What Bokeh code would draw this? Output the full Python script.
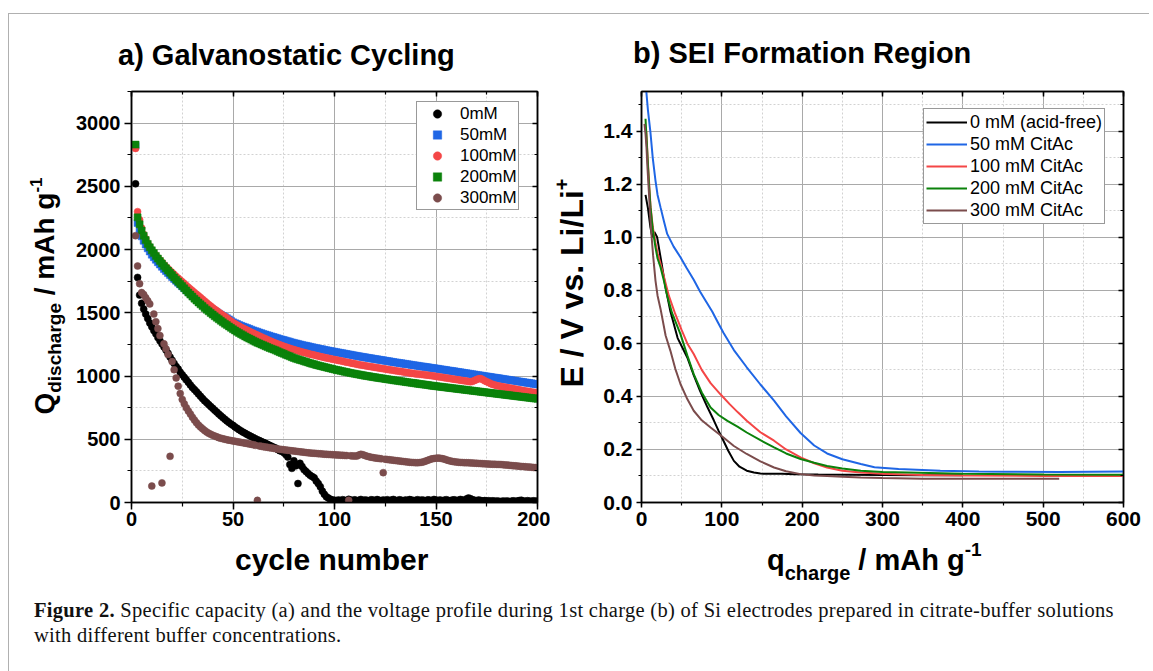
from bokeh.plotting import figure
from bokeh.models import (ColumnDataSource, LinearAxis, SingleIntervalTicker,
                          Legend, LegendItem, Div, Range1d, PrintfTickFormatter, Spacer)
from bokeh.layouts import row, column
from bokeh.embed import file_html
from bokeh.resources import INLINE

SANS = "Liberation Sans"

# ---------------- panel a: discharge capacity vs cycle ----------------
cycles = list(range(2, 201))
labels_a = ["0mM", "50mM", "100mM", "200mM", "300mM"]
Q_0mM = [2520, 1780, 1640, 1575, 1530, 1490, 1455, 1420, 1390, 1360,
         1335, 1305, 1280, 1255, 1230, 1205, 1180, 1150, 1125, 1100,
         1075, 1055, 1030, 1010, 990, 970, 950, 930, 910, 893,
         875, 858, 840, 822, 805, 790, 775, 760, 745, 730,
         715, 700, 686, 672, 658, 645, 633, 620, 610, 598,
         587, 576, 566, 556, 547, 538, 530, 521, 513, 505,
         497, 490, 482, 475, 468, 460, 452, 445, 437, 430,
         420, 410, 405, 395, 380, 360, 300, 270, 330, 290,
         150, 310, 285, 260, 245, 230, 215, 205, 195, 170,
         150, 125, 90, 65, 45, 35, 25, 20, 18, 15,
         20, 12, 22, 17, 14, 25, 19, 16, 21, 13,
         18, 24, 15, 20, 17, 12, 22, 19, 15, 23,
         18, 14, 20, 16, 22, 13, 19, 24, 17, 15,
         21, 18, 12, 20, 16, 23, 19, 14, 18, 22,
         15, 20, 17, 13, 21, 18, 16, 24, 19, 15,
         20, 14, 18, 22, 17, 13, 19, 21, 16, 18,
         24, 20, 15, 28, 35, 30, 22, 18, 14, 19,
         16, 12, 15, 11, 14, 10, 13, 9, 12, 10,
         8, 11, 9, 12, 8, 10, 13, 9, 11, 15,
         18, 12, 10, 14, 11, 9, 13, 10, 12]
Q_50mM = [2820, 2210, 2150, 2105, 2070, 2040, 2010, 1985, 1960, 1940,
          1920, 1900, 1882, 1864, 1846, 1830, 1814, 1798, 1783, 1768,
          1753, 1738, 1724, 1710, 1696, 1682, 1668, 1655, 1642, 1629,
          1616, 1604, 1592, 1580, 1568, 1557, 1546, 1535, 1524, 1514,
          1504, 1494, 1484, 1475, 1466, 1457, 1448, 1436, 1425, 1418,
          1411, 1404, 1397, 1391, 1385, 1379, 1373, 1367, 1361, 1355,
          1350, 1344, 1339, 1333, 1328, 1323, 1318, 1313, 1308, 1303,
          1298, 1293, 1289, 1284, 1280, 1275, 1271, 1266, 1262, 1258,
          1254, 1250, 1246, 1242, 1239, 1235, 1231, 1228, 1224, 1221,
          1217, 1214, 1211, 1207, 1204, 1201, 1198, 1195, 1192, 1189,
          1186, 1183, 1180, 1177, 1174, 1171, 1168, 1165, 1162, 1159,
          1156, 1153, 1151, 1148, 1145, 1142, 1140, 1137, 1134, 1132,
          1129, 1126, 1124, 1121, 1118, 1116, 1113, 1111, 1108, 1106,
          1103, 1101, 1098, 1096, 1093, 1091, 1088, 1086, 1083, 1081,
          1078, 1076, 1074, 1071, 1069, 1066, 1064, 1062, 1059, 1057,
          1054, 1052, 1049, 1047, 1044, 1042, 1039, 1037, 1034, 1032,
          1029, 1027, 1024, 1022, 1019, 1017, 1014, 1012, 1009, 1007,
          1004, 1002, 999, 997, 994, 992, 989, 987, 984, 982,
          979, 977, 974, 972, 969, 967, 964, 962, 959, 957,
          954, 952, 949, 947, 944, 942, 939, 937, 934]
Q_100mM = [2800, 2300, 2235, 2170, 2120, 2085, 2050, 2022, 1996, 1975,
           1955, 1935, 1917, 1899, 1881, 1865, 1849, 1833, 1818, 1803,
           1788, 1773, 1759, 1745, 1731, 1716, 1702, 1688, 1675, 1661,
           1647, 1634, 1621, 1607, 1593, 1580, 1566, 1553, 1540, 1528,
           1516, 1504, 1492, 1481, 1470, 1459, 1446, 1434, 1422, 1413,
           1404, 1395, 1386, 1378, 1370, 1362, 1354, 1346, 1339, 1331,
           1324, 1316, 1309, 1301, 1294, 1287, 1280, 1273, 1266, 1260,
           1253, 1247, 1241, 1235, 1230, 1224, 1219, 1213, 1209, 1204,
           1199, 1195, 1190, 1186, 1182, 1178, 1173, 1170, 1166, 1162,
           1158, 1154, 1151, 1147, 1143, 1140, 1137, 1133, 1130, 1127,
           1123, 1120, 1117, 1113, 1110, 1107, 1103, 1100, 1097, 1093,
           1090, 1087, 1085, 1082, 1079, 1076, 1074, 1071, 1068, 1066,
           1063, 1060, 1058, 1055, 1052, 1050, 1047, 1045, 1042, 1040,
           1037, 1035, 1032, 1030, 1027, 1025, 1022, 1020, 1017, 1016,
           1014, 1012, 1011, 1008, 1007, 1004, 1002, 1000, 997, 995,
           992, 990, 987, 985, 982, 980, 977, 975, 972, 970,
           967, 965, 962, 960, 957, 955, 958, 965, 972, 978,
           980, 972, 962, 955, 948, 940, 934, 929, 924, 921,
           918, 915, 912, 909, 906, 903, 900, 897, 894, 891,
           888, 885, 882, 880, 877, 874, 871, 869, 866]
Q_200mM = [2830, 2255, 2200, 2150, 2110, 2075, 2045, 2018, 1994, 1972,
           1950, 1929, 1909, 1890, 1871, 1852, 1834, 1816, 1798, 1780,
           1762, 1745, 1728, 1711, 1694, 1677, 1660, 1644, 1628, 1612,
           1597, 1582, 1567, 1553, 1539, 1525, 1512, 1499, 1486, 1473,
           1461, 1449, 1437, 1425, 1414, 1403, 1392, 1381, 1370, 1360,
           1350, 1340, 1331, 1322, 1313, 1304, 1296, 1288, 1280, 1272,
           1264, 1257, 1250, 1243, 1236, 1229, 1222, 1216, 1210, 1203,
           1196, 1189, 1182, 1176, 1169, 1162, 1156, 1149, 1143, 1137,
           1132, 1127, 1122, 1117, 1112, 1107, 1102, 1097, 1093, 1088,
           1084, 1080, 1076, 1072, 1068, 1064, 1060, 1056, 1052, 1048,
           1045, 1041, 1038, 1034, 1031, 1027, 1024, 1021, 1018, 1015,
           1012, 1009, 1006, 1003, 1000, 998, 995, 992, 990, 987,
           985, 982, 980, 977, 975, 972, 970, 967, 965, 963,
           960, 958, 956, 953, 951, 949, 946, 944, 942, 940,
           937, 935, 933, 931, 929, 926, 924, 922, 920, 918,
           916, 914, 912, 910, 908, 906, 904, 902, 900, 898,
           896, 894, 892, 890, 888, 886, 884, 882, 880, 878,
           876, 874, 872, 870, 868, 866, 864, 862, 860, 858,
           856, 854, 852, 850, 848, 846, 844, 842, 840, 838,
           836, 834, 832, 830, 828, 826, 824, 822, 820]
Q_300mM = [2110, 1870, 1730, 1660, 1645, 1620, 1595, 1570, 130, 1490,
           1430, 1375, 1320, 155, 1255, 1215, 1170, 365, 1115, 1050,
           985, 920, 862, 815, 780, 750, 724, 700, 675, 652,
           630, 612, 597, 583, 570, 558, 548, 540, 532, 525,
           519, 513, 508, 504, 500, 496, 493, 490, 487, 484,
           481, 478, 475, 472, 469, 466, 463, 460, 457, 452,
           17, 447, 444, 441, 438, 436, 433, 431, 428, 426,
           423, 421, 419, 417, 415, 413, 411, 409, 407, 405,
           403, 401, 399, 397, 395, 393, 392, 390, 389, 388,
           386, 385, 384, 382, 381, 380, 379, 378, 377, 376,
           375, 374, 373, 372, 371, 17, 369, 368, 368, 367,
           375, 381, 378, 372, 366, 362, 358, 355, 352, 350,
           348, 346, 236, 342, 340, 338, 336, 334, 332, 330,
           328, 326, 324, 322, 320, 318, 317, 316, 315, 315,
           316, 318, 322, 328, 334, 340, 345, 348, 350, 351,
           350, 347, 343, 338, 333, 329, 325, 322, 320, 318,
           317, 316, 315, 315, 314, 313, 312, 311, 310, 309,
           308, 307, 306, 305, 304, 303, 302, 302, 301, 301,
           300, 299, 297, 296, 294, 293, 291, 290, 288, 287,
           285, 284, 283, 281, 280, 279, 277, 276, 275]

# ---------------- panel b: potential vs charge ----------------
labels_b = ["0 mM (acid-free)", "50 mM CitAc", "100 mM CitAc", "200 mM CitAc", "300 mM CitAc"]
q_0mM = [5, 8, 11, 13.5, 16, 19.5, 23.7, 30, 36, 45, 57, 65, 73, 82, 90, 96, 102,
         108, 115, 122, 131, 140, 148, 160, 175, 190, 220, 260, 300, 350, 400]
E_0mM = [1.16, 1.11, 1.04, 1.00, 1.02, 1.0, 0.925, 0.81, 0.72, 0.62, 0.547, 0.48,
         0.42, 0.36, 0.31, 0.27, 0.233, 0.195, 0.157, 0.135, 0.12, 0.113, 0.109,
         0.108, 0.108, 0.107, 0.106, 0.105, 0.104, 0.103, 0.103]
q_50mM = [6, 8, 11, 14, 17.4, 20, 23.7, 28, 32, 40, 48.5, 56, 65, 73, 80, 88, 95,
          102, 115, 131, 148, 165, 180, 198, 215, 231, 250, 273, 290, 320, 372,
          420, 455, 520, 600]
E_50mM = [1.55, 1.48, 1.40, 1.30, 1.214, 1.16, 1.113, 1.06, 1.013, 0.965, 0.925,
          0.885, 0.84, 0.795, 0.76, 0.72, 0.68, 0.64, 0.575, 0.51, 0.445, 0.384,
          0.325, 0.262, 0.215, 0.185, 0.163, 0.145, 0.133, 0.126, 0.12, 0.117,
          0.116, 0.115, 0.117]
q_100mM = [6, 8, 11.2, 14, 17.4, 20, 23.7, 28, 34, 42, 50, 57, 65, 75, 86, 98,
           110, 120, 131, 148, 165, 180, 198, 215, 231, 250, 273, 300, 350, 400,
           500, 600]
E_100mM = [1.40, 1.28, 1.12, 1.04, 0.98, 0.94, 0.90, 0.85, 0.78, 0.711, 0.65, 0.60,
           0.56, 0.50, 0.45, 0.409, 0.37, 0.34, 0.308, 0.265, 0.233, 0.20, 0.17,
           0.148, 0.132, 0.12, 0.113, 0.108, 0.104, 0.102, 0.10, 0.10]
q_200mM = [5, 6.5, 7.9, 9.5, 11.2, 14, 17.4, 20, 23.7, 28, 32, 38, 48.5, 57, 65,
           75, 86, 96, 107, 120, 131, 148, 165, 180, 198, 215, 231, 250, 273, 300,
           331, 400, 500, 600]
E_200mM = [1.447, 1.36, 1.277, 1.19, 1.113, 1.03, 0.962, 0.92, 0.887, 0.835, 0.78,
           0.715, 0.635, 0.555, 0.484, 0.415, 0.358, 0.33, 0.308, 0.285, 0.264,
           0.235, 0.208, 0.185, 0.164, 0.15, 0.138, 0.128, 0.12, 0.115, 0.113,
           0.108, 0.106, 0.105]
q_300mM = [3.7, 5, 6.2, 7.5, 9.1, 10.5, 12, 14.5, 17.4, 20, 23.7, 30, 36, 42, 48.5,
           57, 65, 75, 86, 94, 102, 115, 131, 148, 165, 180, 198, 215, 231, 250,
           273, 300, 350, 400, 450, 520]
E_300mM = [1.428, 1.39, 1.34, 1.26, 1.176, 1.10, 1.025, 0.93, 0.837, 0.78, 0.73,
           0.63, 0.572, 0.505, 0.447, 0.39, 0.346, 0.31, 0.283, 0.264, 0.245, 0.213,
           0.183, 0.155, 0.132, 0.118, 0.107, 0.102, 0.10, 0.097, 0.094, 0.092,
           0.09, 0.09, 0.09, 0.09]

colors = ["#000000", "#1f66e5", "#f44646", "#0b820b", "#7b4c4c"]
markers = ["circle", "square", "circle", "square", "circle"]


def dress(p, xint, yint, fs, tick_out, minor_out, so_x, so_y, yfmt=None):
    xt = SingleIntervalTicker(interval=xint, num_minor_ticks=2)
    yt = SingleIntervalTicker(interval=yint, num_minor_ticks=2)
    p.xaxis.ticker = xt
    p.yaxis.ticker = yt
    p.xgrid.ticker = xt
    p.ygrid.ticker = yt
    if yfmt is not None:
        p.yaxis.formatter = yfmt
    for ax, so in ((p.xaxis[0], so_x), (p.yaxis[0], so_y)):
        ax.major_label_text_font = SANS
        ax.major_label_text_font_style = "bold"
        ax.major_label_text_font_size = fs
        ax.major_label_text_color = "black"
        ax.major_label_standoff = so
        ax.major_tick_out = tick_out
        ax.major_tick_in = 0
        ax.minor_tick_out = minor_out
        ax.minor_tick_in = 0
        ax.axis_line_width = 1.5
        ax.major_tick_line_width = 1.5
        ax.minor_tick_line_width = 1.2
        ax.axis_line_color = "black"
        ax.major_tick_line_color = "black"
        ax.minor_tick_line_color = "black"
    # mirrored axes (ticks only, pointing inward)
    for t, place in ((xt, "above"), (yt, "right")):
        ax = LinearAxis(ticker=t, major_label_text_font_size="1px", major_label_text_color=None,
                        major_label_standoff=0,
                        major_tick_in=5, major_tick_out=0, minor_tick_in=3, minor_tick_out=0,
                        axis_line_width=1.5, major_tick_line_width=1.5, minor_tick_line_width=1.2,
                        axis_line_color="black", major_tick_line_color="black",
                        minor_tick_line_color="black")
        p.add_layout(ax, place)
    for g in (p.xgrid[0], p.ygrid[0]):
        g.grid_line_color = "#a9a9a9"
        g.grid_line_width = 1
        g.minor_grid_line_color = "#d2d2d2"
        g.minor_grid_line_dash = "2 2"
    p.outline_line_color = "black"
    p.outline_line_width = 1.5
    p.background_fill_color = "white"
    p.border_fill_color = "white"


def html_div(html, w, h):
    return Div(text=html, width=w, height=h, margin=0, styles={"overflow": "visible"})


FONT_CSS = "font-family:'Liberation Sans',Arial,sans-serif; font-weight:bold; color:#000; white-space:nowrap;"

# ---------- figure a ----------
p1 = figure(frame_width=406, frame_height=411, x_range=Range1d(0, 200), y_range=Range1d(0, 3250),
            min_border_left=62, min_border_right=13, min_border_top=11, min_border_bottom=40,
            output_backend="svg", toolbar_location=None)
dress(p1, 50, 500, "20px", 7, 4, 2, 4)

src_a = ColumnDataSource(dict(cycle=cycles, s0=Q_0mM, s1=Q_50mM, s2=Q_100mM, s3=Q_200mM, s4=Q_300mM))
items_a = []
for i, key in enumerate(["s0", "s1", "s2", "s3", "s4"]):
    r = p1.scatter("cycle", key, source=src_a, marker=markers[i], size=7,
                   fill_color=colors[i], line_color=colors[i], line_width=0.5)
    items_a.append(LegendItem(label=labels_a[i], renderers=[r]))
leg_a = Legend(items=items_a, location=(285, 292), padding=1, spacing=0, margin=0,
               glyph_width=38, glyph_height=21, label_height=21, label_standoff=4,
               label_text_font=SANS, label_text_font_size="17px", label_text_color="black",
               border_line_color="#333333", border_line_width=1, background_fill_color="white",
               background_fill_alpha=1.0)
p1.add_layout(leg_a)

title_a = html_div(
    f'<div style="{FONT_CSS} font-size:29px; line-height:34px; padding-top:24px; padding-left:109px;">'
    'a) Galvanostatic Cycling</div>', 541, 66)
ylab_a = html_div(
    f'<div style="{FONT_CSS} width:300px; height:34px; font-size:28px; line-height:34px; text-align:center;'
    ' transform-origin:0 0; transform:translate(19px,366px) rotate(-90deg);">'
    'Q<span style="font-size:19px; position:relative; top:7px;">discharge</span> / mAh g'
    '<span style="font-size:17px; position:relative; top:-12px;">-1</span></div>', 60, 462)
xlab_a = html_div(
    f'<div style="{FONT_CSS} font-size:30px; line-height:34px; padding-top:1px; padding-left:226px;">'
    'cycle number</div>', 541, 55)
panel_a = column(title_a, row(ylab_a, p1), xlab_a)

# ---------- figure b ----------
p2 = figure(frame_width=482, frame_height=411, x_range=Range1d(0, 600), y_range=Range1d(0, 1.55),
            min_border_left=45, min_border_right=18, min_border_top=11, min_border_bottom=40,
            output_backend="svg", toolbar_location=None)
dress(p2, 100, 0.2, "21px", 5, 3, 4, 4, yfmt=PrintfTickFormatter(format="%.1f"))

series_b = [(q_0mM, E_0mM), (q_50mM, E_50mM), (q_100mM, E_100mM), (q_200mM, E_200mM), (q_300mM, E_300mM)]
items_b = []
for i, (qq, ee) in enumerate(series_b):
    r = p2.line(qq, ee, line_width=2, line_color=colors[i])
    items_b.append(LegendItem(label=labels_b[i], renderers=[r]))
leg_b = Legend(items=items_b, location=(282, 278), padding=2, spacing=0, margin=0,
               glyph_width=41, glyph_height=22, label_height=22, label_standoff=3,
               label_text_font=SANS, label_text_font_size="18px", label_text_color="black",
               border_line_color="#333333", border_line_width=1, background_fill_color="white",
               background_fill_alpha=1.0)
p2.add_layout(leg_b)

title_b = html_div(
    f'<div style="{FONT_CSS} font-size:29px; line-height:34px; padding-top:22px; padding-left:83px;">'
    'b) SEI Formation Region</div>', 591, 66)
ylab_b = html_div(
    f'<div style="{FONT_CSS} width:300px; height:38px; font-size:32px; line-height:38px; text-align:center;'
    ' transform-origin:0 0; transform:translate(3px,353px) rotate(-90deg);">'
    'E / V vs. Li/Li<span style="font-size:20px; position:relative; top:-14px;">+</span></div>', 46, 462)
xlab_b = html_div(
    f'<div style="{FONT_CSS} font-size:29px; line-height:34px; padding-top:1px; padding-left:217px;">'
    'q<span style="font-size:20px; position:relative; top:10px;">charge</span> / mAh g'
    '<span style="font-size:19px; position:relative; top:-14px;">-1</span></div>', 591, 55)
panel_b = column(title_b, row(ylab_b, p2), xlab_b)

# ---------- page ----------
caption = html_div(
    '<div style="font-family:\'Liberation Serif\',serif; font-size:20.5px; line-height:25px; letter-spacing:0.3px;'
    ' padding-left:25px; padding-top:1px; color:#111; white-space:nowrap;">'
    '<b>Figure 2.</b> Specific capacity (a) and the voltage profile during 1st charge (b) '
    'of Si electrodes prepared in citrate-buffer solutions<br>with different buffer concentrations.</div>',
    1132, 60)
top_line = Div(text="", width=1140, height=1, margin=0, styles={"background-color": "#b0b0b0"})
left_line = Div(text="", width=1, height=658, margin=0, styles={"background-color": "#b0b0b0"})
inner = column(top_line, row(panel_a, panel_b), caption)
page = column(Spacer(width=10, height=13, margin=0),
              row(Spacer(width=8, height=10, margin=0), left_line, inner))

open("out.html", "w").write(file_html(page, INLINE))
